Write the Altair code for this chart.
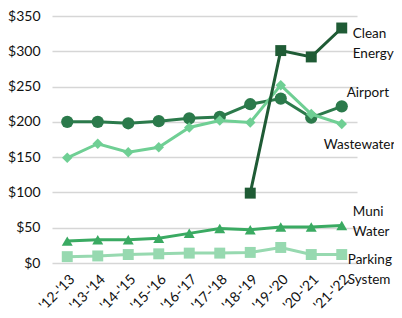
import altair as alt
import pandas as pd

years = ["'12-'13", "'13-'14", "'14-'15", "'15-'16", "'16-'17",
         "'17-'18", "'18-'19", "'19-'20", "'20-'21", "'21-'22"]

airport = [200, 200, 198, 201, 205, 207, 225, 233, 206, 222]
wastewater = [149, 169, 157, 164, 192, 202, 199, 252, 211, 197]
clean_energy = [None, None, None, None, None, None, 99, 301, 292, 333]
muni_water = [31, 33, 33, 35, 42, 49, 47, 51, 51, 53]
parking = [9, 10, 12, 13, 14, 14, 15, 22, 12, 12]

series_names = ["Parking System", "Muni Water", "Airport", "Wastewater", "Clean Energy"]
series_values = [parking, muni_water, airport, wastewater, clean_energy]
series_colors = ["#97D9B0", "#3AAA62", "#2B7A4B", "#6FCF94", "#1F5B35"]
series_shapes = ["square", "triangle-up", "circle", "diamond", "square"]

label_text = ["Parking\nSystem", "Muni\nWater", "Airport", "Wastewater", "Clean\nEnergy"]
label_y = [4, 72, 241, 167, 325]
label_dx = [6, 11, 5, -18, 11]

rows = []
for name, vals in zip(series_names, series_values):
    for yr, v in zip(years, vals):
        if v is not None:
            rows.append({"year": yr, "series": name, "value": v})
df = pd.DataFrame(rows)

xenc = alt.X("year:O", sort=years, scale=alt.Scale(padding=0.5),
             axis=alt.Axis(title=None, labelAngle=-45, ticks=False, domain=False,
                           grid=False, labelFontSize=14, labelColor="#111",
                           labelPadding=9, labelFont="Lato"))
yenc = alt.Y("value:Q", scale=alt.Scale(domain=[0, 350]),
             axis=alt.Axis(title=None, values=[0, 50, 100, 150, 200, 250, 300, 350],
                           labelExpr="'$' + datum.value", ticks=False, domain=False,
                           gridColor="#d6d6d6", gridWidth=1.5, labelFontSize=14,
                           labelColor="#111", labelPadding=12, labelFont="Lato"))

layers = []
for i, name in enumerate(series_names):
    sub = df[df.series == name]
    base = alt.Chart(sub)
    line = base.mark_line(strokeWidth=3, color=series_colors[i]).encode(x=xenc, y=yenc)
    sz = 150 if series_shapes[i] == "circle" else (110 if series_shapes[i] == "diamond" else 120)
    pts = base.mark_point(filled=True, opacity=1, size=sz, shape=series_shapes[i],
                          color=series_colors[i]).encode(x=xenc, y=yenc)
    layers += [line, pts]

lab_df = pd.DataFrame({"year": [years[-1]] * len(label_text), "text": label_text,
                       "value": label_y, "dx": label_dx})
labels = []
for i in range(len(label_text)):
    labels.append(
        alt.Chart(lab_df.iloc[[i]]).mark_text(align="left", baseline="middle", fontSize=13.5,
                                              font="Lato", color="#111", lineBreak="\n",
                                              lineHeight=20, dx=label_dx[i])
        .encode(x=xenc, y=yenc, text="text:N")
    )

chart = alt.layer(*layers, *labels).properties(
    width=305, height=247,
    autosize=alt.AutoSizeParams(type="none"),
    padding={"left": 44, "top": 8, "right": 37, "bottom": 50},
).configure_view(stroke=None)

chart.save("out.html", embed_options={"renderer": "svg", "actions": False})
